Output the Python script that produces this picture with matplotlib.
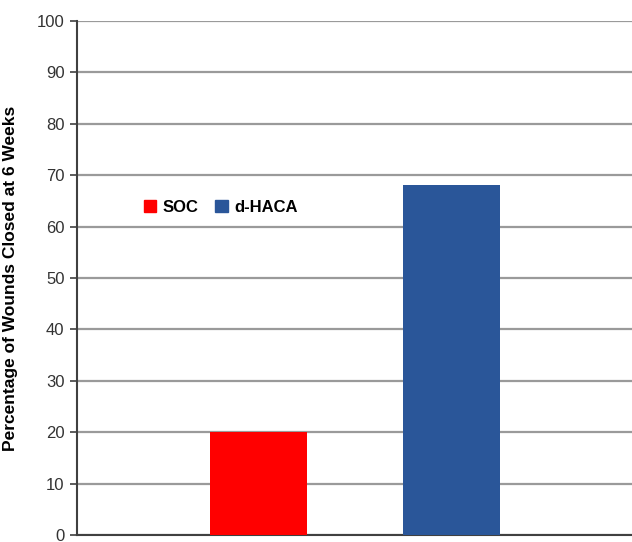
import matplotlib
matplotlib.use("Agg")
import matplotlib.pyplot as plt
from matplotlib.patches import Patch

plt.rcParams['font.family'] = ['Liberation Sans', 'DejaVu Sans']

categories = ["SOC", "d-HACA"]
values = [20, 68]
colors = ["#ff0000", "#2a5699"]
yticks = [0, 10, 20, 30, 40, 50, 60, 70, 80, 90, 100]

fig = plt.figure(figsize=(6.32, 5.42), dpi=100)
ax = fig.add_axes([77/632, 1 - 535/542, (632-77)/632, (535-21)/542])

x = list(range(len(categories)))
ax.bar(x, values, width=0.503, color=colors, zorder=3)

ax.set_xlim(-0.940, 1.935)
ax.set_ylim(0, 100)
ax.set_yticks(yticks)
ax.set_xticks([])
ax.yaxis.grid(True, color="#9a9a9a", linewidth=1.6, zorder=0)
ax.set_axisbelow(True)
for s in ["top", "right"]:
    ax.spines[s].set_visible(False)
ax.spines["left"].set_color("#404040")
ax.spines["left"].set_linewidth(1.5)
ax.spines["bottom"].set_color("#404040")
ax.spines["bottom"].set_linewidth(1.5)
ax.tick_params(axis="y", length=5, width=1.2, color="#404040", labelsize=12,
               labelcolor="#333333", pad=4)

ax.yaxis.set_label_coords(-0.107, 0.49)
ax.set_ylabel("Percentage of Wounds Closed at 6 Weeks", fontsize=12.5,
              fontweight="bold")

handles = [Patch(color=c, label=l) for c, l in zip(colors, categories)]
leg = ax.legend(handles=handles, loc="center left", bbox_to_anchor=(0.093, 0.637),
                ncol=2, frameon=False, handlelength=0.75, handleheight=0.75,
                handletextpad=0.4, columnspacing=1.0,
                prop={"weight": "bold", "size": 12})

fig.savefig("out.png", dpi=100)
